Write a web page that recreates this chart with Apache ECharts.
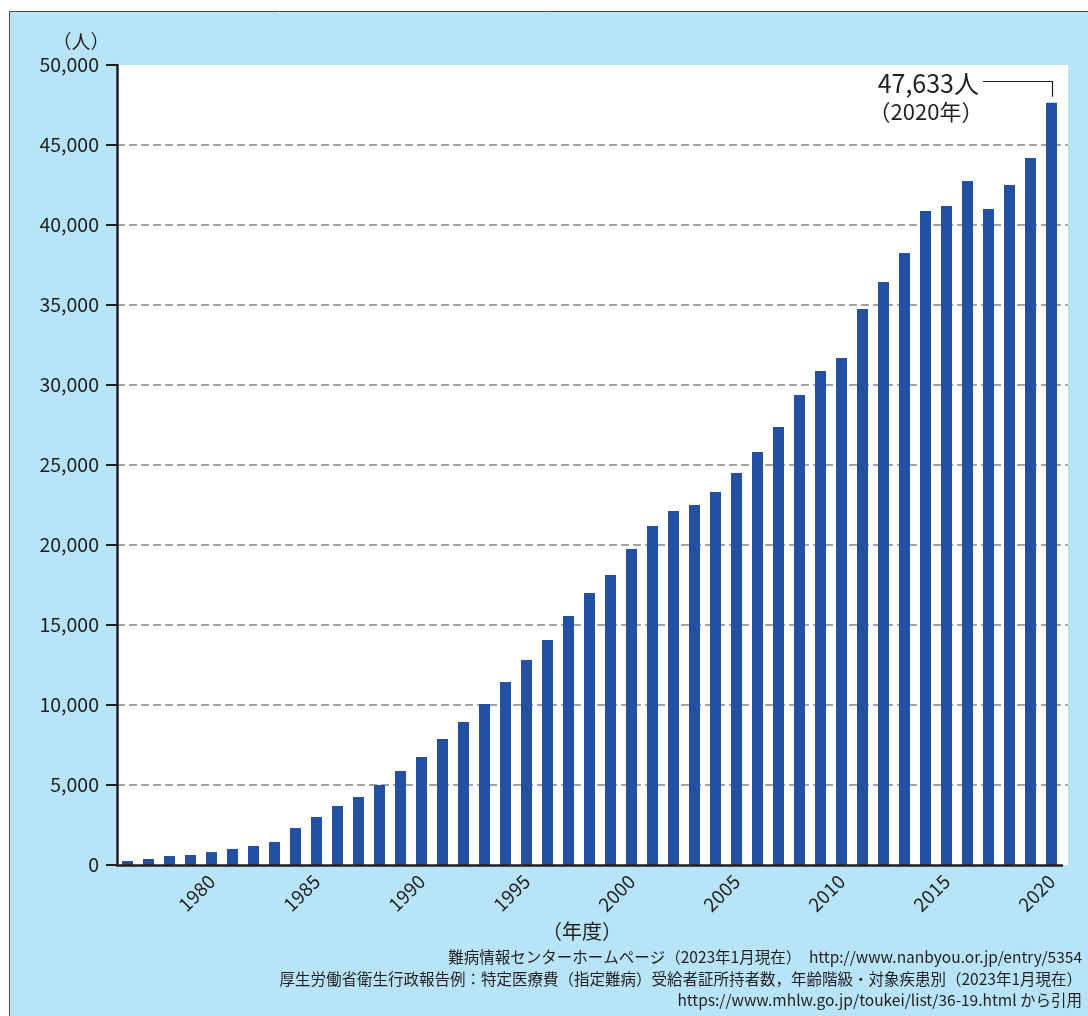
<!DOCTYPE html>
<html>
<head>
<meta charset="utf-8">
<script src="https://cdn.jsdelivr.net/npm/echarts@6/dist/echarts.min.js"></script>
<style>
  html, body { margin: 0; padding: 0; background: #ffffff; }
  #chart { width: 1088px; height: 1016px; }
</style>
</head>
<body>
<div id="chart"></div>
<script>
// ---- Data ----
const years = [
  '1976','1977','1978','1979','1980','1981','1982','1983','1984','1985',
  '1986','1987','1988','1989','1990','1991','1992','1993','1994','1995',
  '1996','1997','1998','1999','2000','2001','2002','2003','2004','2005',
  '2006','2007','2008','2009','2010','2011','2012','2013','2014','2015',
  '2016','2017','2018','2019','2020'
];
const patients = [
  250, 375, 560, 625, 810, 1000, 1190, 1440, 2310, 3000,
  3690, 4250, 5000, 5880, 6750, 7875, 8940, 10060, 11440, 12810,
  14060, 15560, 17000, 18125, 19750, 21190, 22125, 22500, 23310, 24500,
  25810, 27375, 29375, 30875, 31690, 34750, 36440, 38250, 40875, 41190,
  42750, 41000, 42500, 44190, 47633
];
const yTicks = [0, 5000, 10000, 15000, 20000, 25000, 30000, 35000, 40000, 45000, 50000];
const yUnit = '（人）';
const xUnit = '（年度）';
const sourceLines = [
  '難病情報センターホームページ（2023年1月現在）　http://www.nanbyou.or.jp/entry/5354',
  '厚生労働省衛生行政報告例：特定医療費（指定難病）受給者証所持者数，年齢階級・対象疾患別（2023年1月現在）',
  'https://www.mhlw.go.jp/toukei/list/36-19.html から引用'
];

const FONT = '"Noto Sans CJK JP", "Noto Sans", sans-serif';
const DARK = '#231f20';
const BAR = '#2450a4';

const chart = echarts.init(document.getElementById('chart'), null, { renderer: 'canvas' });

const yMin = yTicks[0], yMax = yTicks[yTicks.length - 1], yStep = yTicks[1] - yTicks[0];

const option = {
  backgroundColor: '#ffffff',
  animation: false,
  textStyle: { fontFamily: FONT, color: DARK },
  grid: [
    { left: 117, top: 65, right: 26, bottom: 151, containLabel: false },
    { left: 117, top: 65, right: 20, bottom: 151, show: true, backgroundColor: '#ffffff', borderWidth: 0, z: 1 }
  ],
  xAxis: [
    {
      type: 'category', gridIndex: 0, data: years, boundaryGap: true,
      axisLine: { show: true, lineStyle: { color: DARK, width: 2.5 } },
      axisTick: { show: false },
      axisLabel: {
        interval: function (idx, val) { return Number(val) % 5 === 0; },
        rotate: 45, margin: 13, fontSize: 19, color: DARK, fontFamily: FONT
      },
      splitLine: { show: false },
      z: 5
    },
    {
      type: 'category', gridIndex: 1, data: years,
      show: false
    }
  ],
  yAxis: [
    {
      type: 'value', gridIndex: 0, min: yMin, max: yMax, interval: yStep,
      axisLine: { show: true, lineStyle: { color: DARK, width: 2.5 } },
      axisTick: { show: true, inside: false, length: 11, lineStyle: { color: DARK, width: 2 } },
      axisLabel: {
        margin: 18, fontSize: 19.5, color: DARK, fontFamily: FONT,
        formatter: function (v) { return v.toLocaleString('en-US'); }
      },
      splitLine: { show: false },
      z: 5
    },
    {
      type: 'value', gridIndex: 1, min: yMin, max: yMax, interval: yStep,
      axisLine: { show: false }, axisTick: { show: false }, axisLabel: { show: false },
      splitLine: {
        show: true, showMinLine: false, showMaxLine: false,
        lineStyle: { color: '#a3a3a3', width: 2, type: [8, 4] }
      },
      z: 2
    }
  ],
  series: [
    {
      type: 'bar', xAxisIndex: 0, yAxisIndex: 0,
      data: patients, barWidth: 11,
      itemStyle: { color: BAR },
      z: 4
    }
  ],
  graphic: []
};

chart.setOption(option);

// ---- decorations: frame, units, source, annotation ----
const lastIdx = patients.length - 1;
const barTop = chart.convertToPixel({ xAxisIndex: 0, yAxisIndex: 0 }, [lastIdx, patients[lastIdx]]);
const px = Math.round(barTop[0]) + 0.5;
const lineY = 81.5;

const graphics = [
  {
    type: 'rect', z: -10, silent: true,
    shape: { x: 9.5, y: 11.5, width: 1200, height: 1200 },
    style: { fill: '#b8e4f8', stroke: '#4a4a4a', lineWidth: 1 }
  },
  {
    type: 'text', z: 10, x: 81, y: 42,
    style: { text: yUnit, fontSize: 19, fontFamily: FONT, fill: DARK, textAlign: 'center', textVerticalAlign: 'middle' }
  },
  {
    type: 'text', z: 10, x: 582, y: 931,
    style: { text: xUnit, fontSize: 20, fontFamily: FONT, fill: DARK, textAlign: 'center', textVerticalAlign: 'middle' }
  },
  {
    type: 'polyline', z: 10, silent: true,
    shape: { points: [[983, lineY], [px, lineY], [px, barTop[1] - 6]] },
    style: { stroke: DARK, lineWidth: 1.2, fill: null }
  },
  {
    type: 'text', z: 10, x: 979, y: 83,
    style: {
      text: patients[lastIdx].toLocaleString('en-US') + '人',
      fontSize: 25, fontFamily: FONT, fill: DARK, textAlign: 'right', textVerticalAlign: 'middle'
    }
  },
  {
    type: 'text', z: 10, x: 926, y: 112,
    style: {
      text: '（' + years[lastIdx] + '年）',
      fontSize: 22, fontFamily: FONT, fill: DARK, textAlign: 'center', textVerticalAlign: 'middle'
    }
  }
];
const srcY = [957, 979, 1000];
sourceLines.forEach(function (t, i) {
  graphics.push({
    type: 'text', z: 10, x: 1082, y: srcY[i],
    style: { text: t, fontSize: 15.5, fontFamily: FONT, fill: DARK, textAlign: 'right', textVerticalAlign: 'middle' }
  });
});

chart.setOption({ graphic: graphics });
</script>
</body>
</html>
